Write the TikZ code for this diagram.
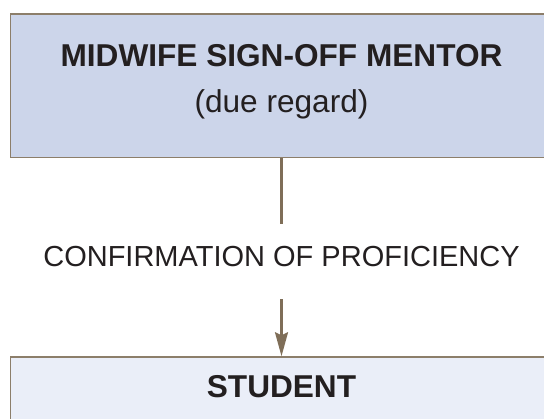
\documentclass[tikz,border=0pt]{standalone}
\usepackage{fontspec}
\setmainfont{Liberation Sans}
\usetikzlibrary{arrows.meta}
\definecolor{edge}{HTML}{8C7E6A}
\definecolor{link}{HTML}{7F6E58}
\definecolor{topfill}{HTML}{CCD5EA}
\definecolor{lowfill}{HTML}{EAEEF8}
\definecolor{ink}{HTML}{231F20}
\tikzset{
  box/.style={draw=edge, line width=1.5bp, rectangle, inner sep=0pt, minimum width=542bp},
  boxtitle/.style={anchor=base, inner sep=0pt, text=ink, font=\fontsize{31.6bp}{36bp}\selectfont\bfseries},
  boxnote/.style={anchor=base, inner sep=0pt, text=ink, font=\fontsize{31.6bp}{36bp}\selectfont},
  linklabel/.style={anchor=base, inner sep=0pt, text=ink, font=\fontsize{29bp}{34bp}\selectfont},
  linkline/.style={draw=link, line width=2.2bp}
}
\begin{document}
\begin{tikzpicture}[x=1bp, y=1bp]
  \useasboundingbox (0,0) rectangle (544,418);
  \clip (0,0) rectangle (544,418);
  % the two boxes
  \node[box, fill=topfill, minimum height=143.5bp] (mentor) at (281.5,332.25) {};
  \node[box, fill=lowfill, minimum height=82bp] (student) at (281.5,20) {};
  % their texts
  \node[boxtitle] (mentortitle) at (281.5,352) {MIDWIFE SIGN-OFF MENTOR};
  \node[boxnote] (mentornote) at (281.5,306) {(due regard)};
  \node[boxtitle] (studenttitle) at (281.5,21) {STUDENT};
  % connector, broken by its label
  \node[linklabel] (confirm) at (281.5,152) {CONFIRMATION OF PROFICIENCY};
  \coordinate (gapTop) at (281.5,194);
  \coordinate (gapLow) at (281.5,119);
  \draw[linkline] (mentor.south) -- (gapTop);
  \draw[linkline, -{Stealth[length=24bp, width=13bp, inset=3bp]}] (gapLow) -- (student.north);
\end{tikzpicture}
\end{document}
